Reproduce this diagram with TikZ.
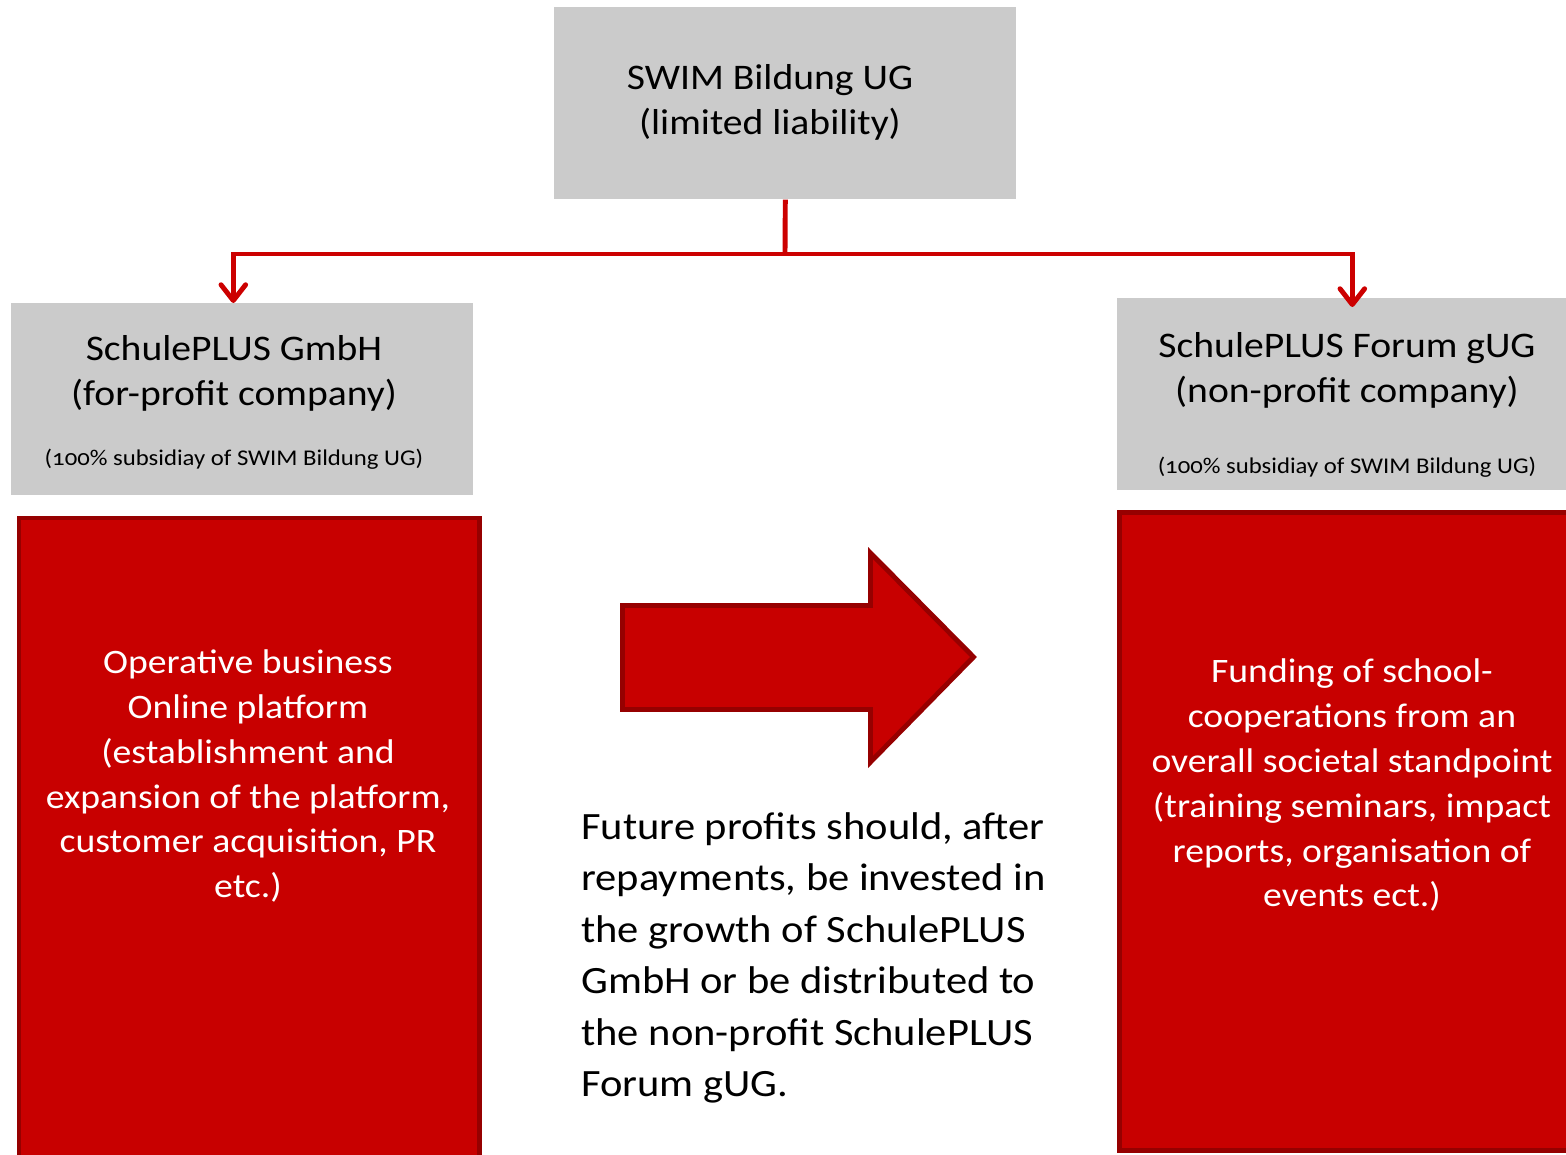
\documentclass[tikz,border=0pt]{standalone}
\usepackage{fontspec}
\setmainfont{Carlito}[FakeStretch=1.1]
\newfontfamily\smallfont{Carlito}[Numbers=OldStyle, FakeStretch=1.1]
\usetikzlibrary{arrows.meta,positioning}

\definecolor{boxgray}{RGB}{203,203,203}
\definecolor{fillred}{RGB}{200,0,0}
\definecolor{edgered}{RGB}{150,0,0}
\definecolor{linered}{RGB}{204,0,0}

\tikzset{
  graybox/.style={fill=boxgray, inner sep=0pt, anchor=north west,
    minimum width=9.24cm, minimum height=3.84cm},
  redbox/.style={fill=fillred, draw=edgered, line width=2.8pt, inner sep=0pt,
    anchor=north west},
  title/.style={align=center, inner sep=0pt,
    font=\fontsize{20.5}{25.6}\selectfont},
  subtitle/.style={inner sep=0pt, font=\smallfont\fontsize{12.8}{15}\selectfont},
  boxtext/.style={align=center, text=white, inner sep=0pt,
    font=\fontsize{19.5}{25.6}\selectfont},
  link/.style={draw=linered, line width=2.8pt},
  linkarrow/.style={link, -{Straight Barb[length=9pt,width=14pt,round]}},
}

\begin{document}
\begin{tikzpicture}[x=0.02cm, y=-0.02cm]
  \useasboundingbox (0,0) rectangle (1566,1154);

  % holding company
  \node[graybox] (swim) at (554,7) {};
  \node[title] (swimtitle) at (770,102) {SWIM Bildung UG\\(limited liability)};

  % the two subsidiaries
  \node[graybox] (gmbh) at (11,303) {};
  \node[title] (gmbhtitle) at (234,373) {SchulePLUS GmbH\\(for-profit company)};
  \node[subtitle] (gmbhsub) at (234,459) {(100\% subsidiay of SWIM Bildung UG)};

  \node[graybox] (forum) at (1117,298) {};
  \node[title] (forumtitle) at (1347,370) {SchulePLUS Forum gUG\\(non-profit company)};
  \node[subtitle] (forumsub) at (1347,467) {(100\% subsidiay of SWIM Bildung UG)};

  % ownership lines
  \coordinate (fork) at (785,254);
  \draw[link] (swim.south) -- (fork);
  \draw[linkarrow] (fork) -| ([xshift=-0.18cm]gmbh.north);
  \draw[linkarrow] (fork) -| ([xshift=0.08cm, yshift=-0.18cm]forum.north);

  % what each company does
  \node[redbox, minimum width=9.22cm, minimum height=13.2cm] (gmbhbox) at (16.5,515.5) {};
  \node[boxtext] (gmbhtext) at (248,776) {Operative business\\Online platform\\(establishment and\\expansion of the platform,\\customer acquisition, PR\\etc.)};

  % right box runs off the page, so only three sides show
  \fill[fillred] (1119.5,512.5) rectangle (1620,1150.5);
  \draw[edgered, line width=2.8pt] (1620,512.5) -- (1119.5,512.5)
    -- (1119.5,1150.5) -- (1620,1150.5);
  \node[boxtext] (forumtext) at (1352,785) {Funding of school-\\cooperations from an\\overall societal standpoint\\(training seminars, impact\\reports, organisation of\\events ect.)};

  % flow of profits
  \draw[fill=fillred, draw=edgered, line width=2.8pt, line join=miter]
    (622.5,605.5) -- (870.5,605.5) -- (870.5,553) -- (973.5,657) -- (870.5,762)
    -- (870.5,709.5) -- (622.5,709.5) -- cycle;
  \node[align=left, anchor=west, inner sep=0pt, font=\fontsize{22}{29.3}\selectfont]
    (profits) at (581,958) {Future profits should, after\\repayments, be invested in\\the growth of SchulePLUS\\GmbH or be distributed to\\the non-profit SchulePLUS\\Forum gUG.};
\end{tikzpicture}
\end{document}
